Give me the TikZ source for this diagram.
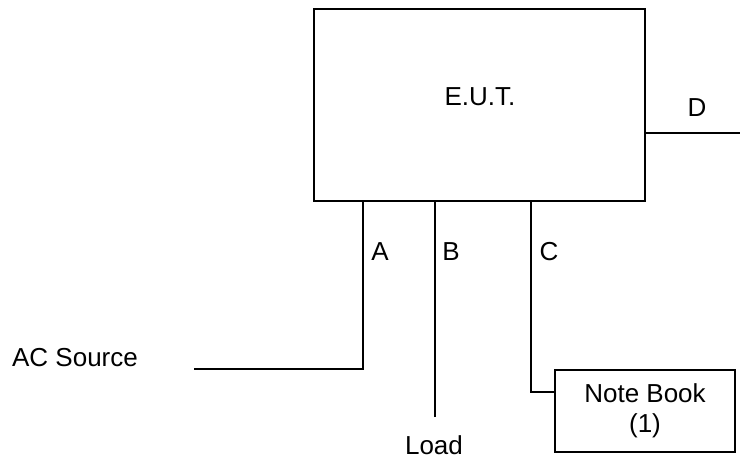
\documentclass[tikz,border=0pt]{standalone}
\usepackage{fontspec}
\setmainfont{Liberation Sans}
\usetikzlibrary{positioning}
\definecolor{emcInk}{HTML}{000000}
\tikzset{
  emc box/.style={draw=emcInk, line width=1pt, rectangle, inner sep=0pt},
  emc wire/.style={draw=emcInk, line width=1pt},
  emc label/.style={font=\fontsize{13}{15}\selectfont, text=emcInk, inner sep=1pt},
}

\begin{document}
\begin{tikzpicture}[x=0.5pt,y=-0.5pt]
  \useasboundingbox (0,0) rectangle (740,457);
  % equipment under test
  \node[emc box, minimum width=165.5pt, minimum height=96pt] (eut) at (479.5,105) {};
  \node[emc label] (euttext) at (480,97) {E.U.T.};
  \node[emc box, emc label, inner sep=0pt, minimum width=90pt, minimum height=41pt,
        align=center, font=\fontsize{13}{15}\selectfont] (notebook) at (645,411) {Note Book\\(1)};
  % free ends and corners
  \coordinate (acend) at (194,369);
  \coordinate (acorner) at (363,369);
  \coordinate (loadend) at (435,417);
  \coordinate (ccorner) at (531,392);
  \coordinate (dend) at (740,133);
  % wires
  \draw[emc wire] (acend) -- (acorner) -- (acorner |- eut.south);
  \draw[emc wire] (loadend) -- (loadend |- eut.south);
  \draw[emc wire] (ccorner |- eut.south) |- (ccorner -| notebook.west);
  \draw[emc wire] (eut.east |- dend) -- (dend);
  % labels
  \node[emc label] (lblA) at (380,252) {A};
  \node[emc label] (lblB) at (451,252) {B};
  \node[emc label] (lblC) at (549,252) {C};
  \node[emc label] (lblD) at (697,108) {D};
  \node[emc label] (acsrc) at (75,358) {AC Source};
  \node[emc label] (load) at (434,445) {Load};
\end{tikzpicture}
\end{document}
